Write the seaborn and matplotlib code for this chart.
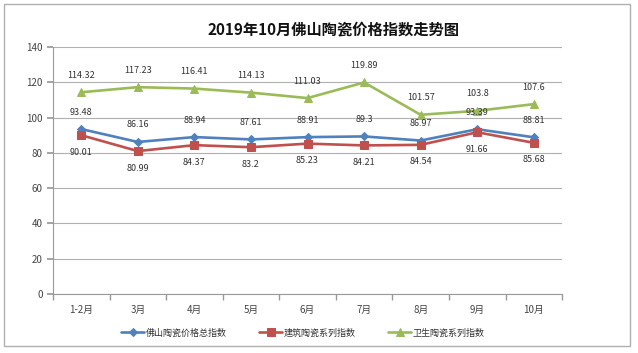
import matplotlib
matplotlib.use("Agg")
import matplotlib.pyplot as plt
import seaborn as sns
import pandas as pd
from matplotlib.patches import Rectangle

categories = ["1-2月", "3月", "4月", "5月", "6月", "7月", "8月", "9月", "10月"]
total_index = [93.48, 86.16, 88.94, 87.61, 88.91, 89.3, 86.97, 93.39, 88.81]
building_index = [90.01, 80.99, 84.37, 83.2, 85.23, 84.21, 84.54, 91.66, 85.68]
sanitary_index = [114.32, 117.23, 116.41, 114.13, 111.03, 119.89, 101.57, 103.8, 107.6]
series_names = ["佛山陶瓷价格总指数", "建筑陶瓷系列指数", "卫生陶瓷系列指数"]
title = "2019年10月佛山陶瓷价格指数走势图"

sns.set_theme(style="white")
plt.rcParams['font.family'] = ['Noto Sans CJK SC', 'DejaVu Sans']

rows = []
for name, vals in zip(series_names, [total_index, building_index, sanitary_index]):
    for i, v in enumerate(vals):
        rows.append({"pos": i, "month": categories[i], "value": v, "series": name})
df = pd.DataFrame(rows)

colors = {series_names[0]: "#4F81BD", series_names[1]: "#C0504D", series_names[2]: "#9BBB59"}
markers = {series_names[0]: "D", series_names[1]: "s", series_names[2]: "^"}
msize = {series_names[0]: 4, series_names[1]: 6, series_names[2]: 6}

fig = plt.figure(figsize=(6.38, 3.53), dpi=100)
ax = fig.add_axes([0.083, 0.167, 0.798, 0.70])

for name in series_names:
    sub = df[df.series == name]
    sns.lineplot(data=sub, x="pos", y="value", ax=ax, color=colors[name],
                 marker=markers[name], markersize=msize[name], linewidth=1.9,
                 markeredgecolor=colors[name], label=name, sort=False)

ax.set_xlim(-0.5, len(categories) - 0.5)
ax.set_ylim(0, 140)
ax.set_yticks(range(0, 141, 20))
ax.set_xticks(range(len(categories)))
ax.set_xticklabels(categories)
ax.set_xticks([i - 0.5 for i in range(len(categories) + 1)], minor=True)
ax.tick_params(axis='x', which='major', length=0, labelsize=7, colors="#444444", pad=8)
ax.tick_params(axis='x', which='minor', length=4, color="#999999", direction='out', bottom=True)
ax.tick_params(axis='y', length=4, color="#999999", direction='out', left=True, labelsize=7, labelcolor="#444444")
ax.set_xlabel("")
ax.set_ylabel("")
ax.yaxis.grid(True, color="#B0B0B0", linewidth=0.8)
ax.set_axisbelow(True)
for s in ["top", "right"]:
    ax.spines[s].set_visible(False)
for s in ["left", "bottom"]:
    ax.spines[s].set_color("#999999")
    ax.spines[s].set_linewidth(0.8)

# data labels
for i, v in enumerate(total_index):
    ax.annotate(f"{v:g}", (i, v), xytext=(0, 9), textcoords="offset points",
                ha="center", va="bottom", fontsize=6.5, color="#333333")
for i, v in enumerate(building_index):
    ax.annotate(f"{v:g}", (i, v), xytext=(0, -9), textcoords="offset points",
                ha="center", va="top", fontsize=6.5, color="#333333")
for i, v in enumerate(sanitary_index):
    ax.annotate(f"{v:g}", (i, v), xytext=(0, 9), textcoords="offset points",
                ha="center", va="bottom", fontsize=6.5, color="#333333")

leg = ax.legend(loc="center", bbox_to_anchor=(0.475, 0.057), bbox_transform=fig.transFigure,
                ncol=3, frameon=False, fontsize=6.5, columnspacing=3.6, handlelength=2.5,
                handletextpad=0.2)
for t in leg.get_texts():
    t.set_color("#333333")

fig.text(0.523, 0.915, title, ha="center", va="center", fontsize=11, fontweight="bold", color="#111111")

fig.patches.append(Rectangle((0.007, 0.02), 0.98, 0.968, transform=fig.transFigure,
                             fill=False, edgecolor="#B0B0B0", linewidth=1))

fig.savefig("out.png", dpi=100)
